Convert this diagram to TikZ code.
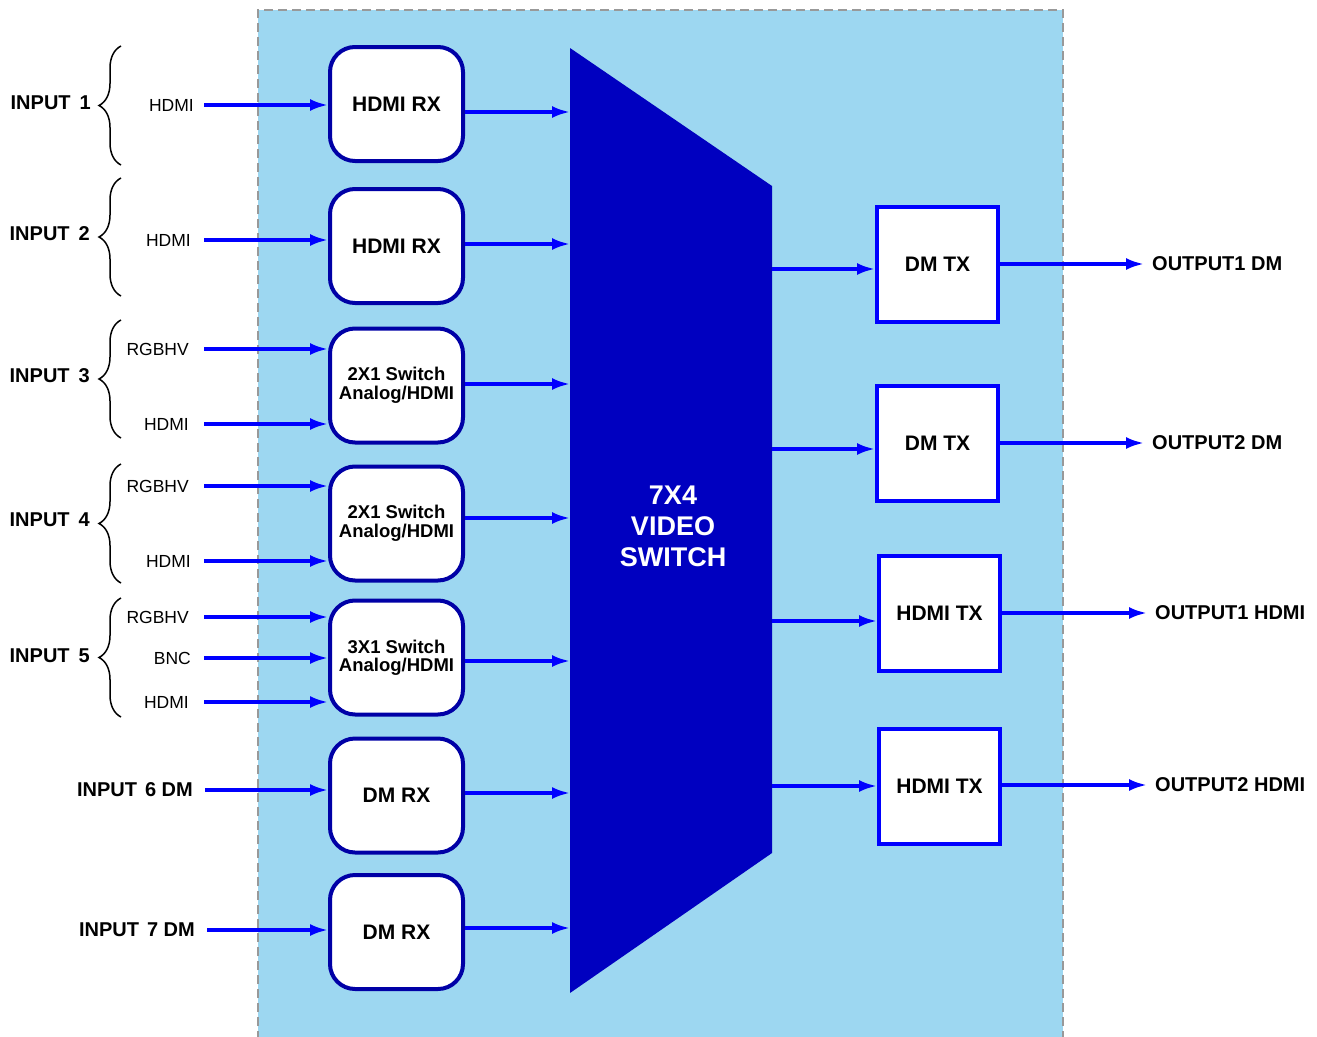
\documentclass[tikz,border=0pt]{standalone}
\usepackage{fontspec}
\setmainfont{Liberation Sans}
\usetikzlibrary{arrows.meta,decorations.pathreplacing}
\definecolor{bgblue}{HTML}{9DD7F1}
\definecolor{boxblue}{HTML}{0000A6}
\definecolor{swblue}{HTML}{0000C0}
\definecolor{arrblue}{HTML}{0000FF}
\definecolor{dashgray}{HTML}{999999}
\begin{document}
\begin{tikzpicture}[x=1pt,y=-1pt,
  rxbox/.style={draw=boxblue, line width=4pt, fill=white, rounded corners=25pt,
    minimum width=133pt, minimum height=114pt, inner sep=0pt, align=center,
    font=\fontsize{21}{18}\selectfont\bfseries},
  swbox/.style={rxbox, font=\fontsize{18.5}{18.5}\selectfont\bfseries},
  txbox/.style={draw=arrblue, line width=4pt, fill=white,
    minimum width=121pt, minimum height=115pt, inner sep=0pt,
    font=\fontsize{21}{20}\selectfont\bfseries},
  arr/.style={draw=arrblue, line width=3.3pt, -{Latex[length=18pt,width=12pt]}},
  sig/.style={anchor=east, inner sep=0pt, font=\fontsize{17.5}{18}\selectfont},
  inlab/.style={anchor=east, inner sep=0pt, font=\fontsize{20}{20}\selectfont\bfseries},
  outlab/.style={anchor=west, inner sep=0pt, font=\fontsize{20}{20}\selectfont\bfseries},
  brc/.style={draw=black, line width=1.5pt, decorate,
    decoration={brace, amplitude=22pt}},
]
\useasboundingbox (0,0) rectangle (1317,1036);

% background
\fill[bgblue] (258,10) rectangle (1063,1040);
\draw[dashgray, line width=2pt, dash pattern=on 9pt off 5pt]
  (258,1040) -- (258,10) -- (1063,10) -- (1063,1040);

% video switch
\fill[swblue] (570,48) -- (772,186) -- (772,853) -- (570,993) -- cycle;
\node[text=white, align=center, font=\fontsize{27}{31}\selectfont\bfseries] (sw) at (673,526)
  {7X4\\VIDEO\\SWITCH};

% switch input / output points
\foreach \i/\y in {1/112,2/244,3/384,4/518,5/661,6/793,7/928}
  \coordinate (si\i) at (570,\y);
\foreach \i/\y in {1/269,2/449,3/621,4/786}
  \coordinate (so\i) at (772,\y);

% receiver boxes
\node[rxbox] (r1) at (396.5,104) {HDMI RX};
\node[rxbox] (r2) at (396.5,246) {HDMI RX};
\node[swbox] (r3) at (396.5,385.5) {2X1 Switch\\Analog/HDMI};
\node[swbox] (r4) at (396.5,523.5) {2X1 Switch\\Analog/HDMI};
\node[swbox] (r5) at (396.5,657.5) {3X1 Switch\\Analog/HDMI};
\node[rxbox] (r6) at (396.5,795.5) {DM RX};
\node[rxbox] (r7) at (396.5,932) {DM RX};

\foreach \i in {1,...,7}
  \draw[arr] (r\i.east |- si\i) -- (si\i);

% transmitter boxes
\node[txbox] (t1) at (937.5,264.5) {DM TX};
\node[txbox] (t2) at (937.5,443.5) {DM TX};
\node[txbox] (t3) at (939.5,613.5) {HDMI TX};
\node[txbox] (t4) at (939.5,786) {HDMI TX};

\foreach \i in {1,...,4}
  \draw[arr] (so\i) -- (t\i.west |- so\i);

% outputs
\foreach \i/\y/\x/\t in {1/264/1152/OUTPUT1 DM, 2/443/1152/OUTPUT2 DM,
                         3/613/1155/OUTPUT1 HDMI, 4/785/1155/OUTPUT2 HDMI}{
  \node[outlab] (o\i) at (\x,\y) {\t};
  \draw[arr] (t\i.east |- o\i.west) -- ([xshift=-8pt]o\i.west);
}

% input signal labels and arrows
\node[sig] (s1) at (194,105) {HDMI};
\node[sig] (s2) at (191,240) {HDMI};
\node[sig] (s3a) at (189,349) {RGBHV};
\node[sig] (s3b) at (189,424) {HDMI};
\node[sig] (s4a) at (189,486) {RGBHV};
\node[sig] (s4b) at (191,561) {HDMI};
\node[sig] (s5a) at (189,617) {RGBHV};
\node[sig] (s5b) at (191,658) {BNC};
\node[sig] (s5c) at (189,702) {HDMI};

\foreach \s/\r in {s1/r1,s2/r2,s3a/r3,s3b/r3,s4a/r4,s4b/r4,s5a/r5,s5b/r5,s5c/r5}
  \draw[arr] ([xshift=204pt]\s.east -| 0,0) -- (\r.west |- \s.east);

% input group labels
\node[inlab] (i1) at (91,103) {INPUT\hspace{9pt}1};
\node[inlab] (i2) at (90,234) {INPUT\hspace{9pt}2};
\node[inlab] (i3) at (90,376) {INPUT\hspace{9pt}3};
\node[inlab] (i4) at (90,520) {INPUT\hspace{9pt}4};
\node[inlab] (i5) at (90,656) {INPUT\hspace{9pt}5};
\node[inlab] (i6) at (193,790) {INPUT\hspace{8pt}6 DM};
\node[inlab] (i7) at (195,930) {INPUT\hspace{8pt}7 DM};

\draw[arr] ([xshift=12pt]i6.east) -- (r6.west |- i6.east);
\draw[arr] ([xshift=12pt]i7.east) -- (r7.west |- i7.east);

% braces
\draw[brc] (121,165) -- (121,46);
\draw[brc] (121,296) -- (121,178);
\draw[brc] (121,438) -- (121,320);
\draw[brc] (121,583) -- (121,464);
\draw[brc] (121,717) -- (121,598);
\end{tikzpicture}
\end{document}
